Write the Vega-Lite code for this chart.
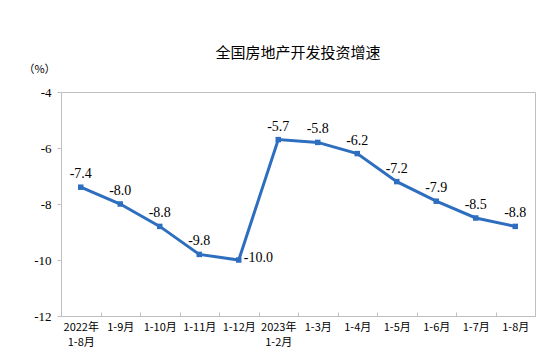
{
  "$schema": "https://vega.github.io/schema/vega-lite/v6.json",
  "width": 474,
  "height": 224,
  "autosize": "none",
  "padding": {"left": 61, "top": 92, "right": 13, "bottom": 46},
  "background": "white",
  "title": {
    "text": "全国房地产开发投资增速",
    "font": "Noto Sans CJK SC",
    "fontSize": 15,
    "fontWeight": "normal",
    "color": "#000000",
    "anchor": "middle",
    "baseline": "middle",
    "offset": -5
  },
  "config": {
    "locale": {"number": {"decimal": ".", "thousands": ",", "grouping": [3], "currency": ["", ""], "minus": "-"}},
    "view": {"stroke": "#bfbfbf", "strokeWidth": 1},
    "axis": {"grid": false, "domainColor": "#bfbfbf", "tickColor": "#bfbfbf", "labelColor": "#000000"}
  },
  "data": {
    "values": [
      {"period": "2022年|1-8月", "v": -7.4},
      {"period": "1-9月", "v": -8.0},
      {"period": "1-10月", "v": -8.8},
      {"period": "1-11月", "v": -9.8},
      {"period": "1-12月", "v": -10.0},
      {"period": "2023年|1-2月", "v": -5.7},
      {"period": "1-3月", "v": -5.8},
      {"period": "1-4月", "v": -6.2},
      {"period": "1-5月", "v": -7.2},
      {"period": "1-6月", "v": -7.9},
      {"period": "1-7月", "v": -8.5},
      {"period": "1-8月", "v": -8.8}
    ]
  },
  "encoding": {
    "x": {
      "field": "period",
      "type": "nominal",
      "sort": null,
      "scale": {"paddingInner": 0, "paddingOuter": 0},
      "axis": {
        "title": null,
        "labelAngle": 0,
        "labelExpr": "split(datum.label, '|')",
        "labelFont": "Noto Sans CJK SC",
        "labelFontSize": 11,
        "labelPadding": 9,
        "labelLineHeight": 15,
        "tickBand": "extent",
        "tickSize": -4,
        "domain": true
      }
    },
    "y": {
      "field": "v",
      "type": "quantitative",
      "scale": {"domain": [-12, -4], "nice": false},
      "axis": {
        "values": [-12, -10, -8, -6, -4],
        "title": "（%）",
        "titleAngle": 0,
        "titleX": -22,
        "titleY": -23,
        "titleAlign": "center",
        "titleBaseline": "middle",
        "titleFont": "Noto Sans CJK SC",
        "titleFontSize": 11,
        "titleFontWeight": "normal",
        "titleColor": "#000000",
        "labelFont": "Liberation Serif",
        "labelFontSize": 13,
        "tickSize": 4,
        "labelPadding": 6,
        "domain": true
      }
    }
  },
  "layer": [
    {
      "mark": {"type": "line", "color": "#2E6EBE", "strokeWidth": 3}
    },
    {
      "mark": {"type": "point", "shape": "square", "filled": true, "size": 30, "color": "#2E6EBE", "opacity": 1}
    },
    {
      "transform": [{"filter": "datum.v != -10"}],
      "mark": {"type": "text", "font": "Liberation Serif", "fontSize": 14, "dy": -13, "baseline": "middle", "color": "#000000"},
      "encoding": {"text": {"field": "v", "type": "quantitative", "format": ".1f"}}
    },
    {
      "transform": [{"filter": "datum.v == -10"}],
      "mark": {"type": "text", "font": "Liberation Serif", "fontSize": 14, "dx": 5, "dy": -2, "align": "left", "baseline": "middle", "color": "#000000"},
      "encoding": {"text": {"field": "v", "type": "quantitative", "format": ".1f"}}
    }
  ]
}
